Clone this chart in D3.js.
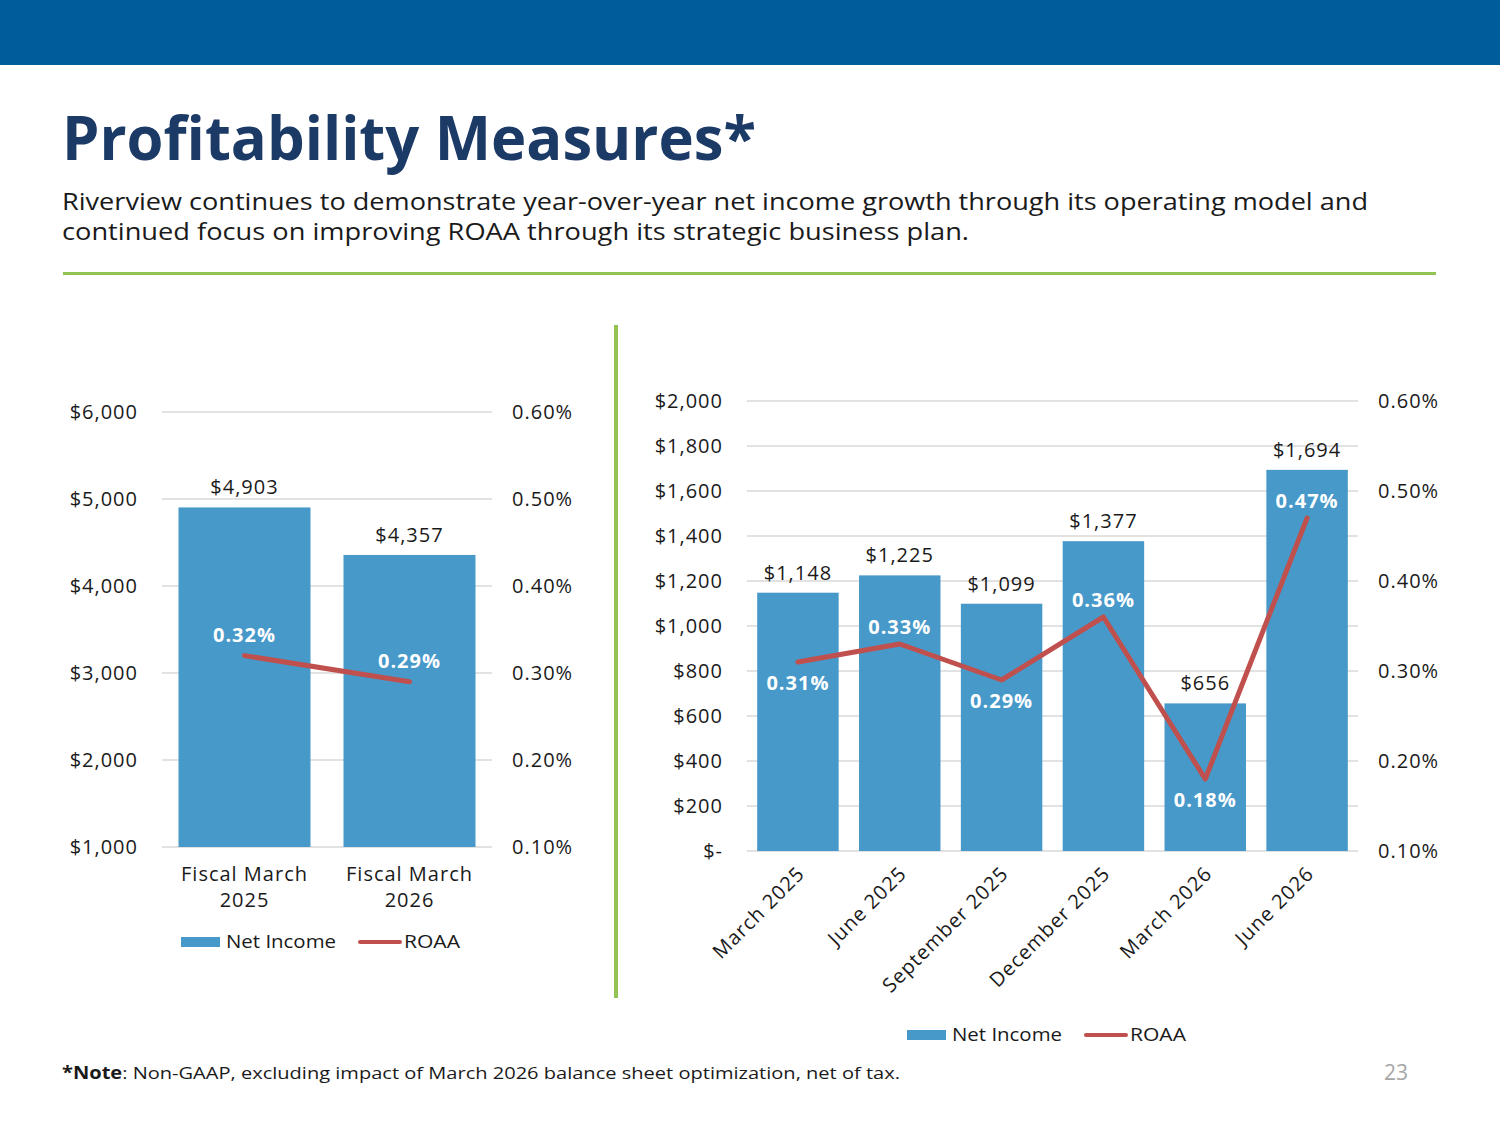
<!DOCTYPE html>
<html>
<head>
<meta charset="utf-8">
<script src="https://cdn.jsdelivr.net/npm/d3@7"></script>
<style>
  body { margin: 0; background: #fff; }
  svg { display: block; font-family: "Open Sans", sans-serif; }
  .wide { letter-spacing: 1px; }
</style>
</head>
<body>
<svg id="slide" width="1500" height="1125"></svg>
<script>
// annual chart data
const annualCategories = ["Fiscal March 2025", "Fiscal March 2026"];
const annualNetIncome = [4903, 4357];
const annualRoaa = [0.32, 0.29];
const annualIncomeTicks = [1000, 2000, 3000, 4000, 5000, 6000];
const annualRoaaTicks = [0.10, 0.20, 0.30, 0.40, 0.50, 0.60];

// quarterly chart data
const quarterCategories = ["March 2025", "June 2025", "September 2025", "December 2025", "March 2026", "June 2026"];
const quarterNetIncome = [1148, 1225, 1099, 1377, 656, 1694];
const quarterRoaa = [0.31, 0.33, 0.29, 0.36, 0.18, 0.47];
const quarterIncomeTicks = [0, 200, 400, 600, 800, 1000, 1200, 1400, 1600, 1800, 2000];
const quarterRoaaTicks = [0.10, 0.20, 0.30, 0.40, 0.50, 0.60];
const quarterLabelSide = ["below", "above", "below", "above", "below", "above"];

const BLUE = "#4799c9", RED = "#c0504d", INK = "#1a1a1a";

const svg = d3.select("#slide");

// header band + titles
svg.append("rect").attr("x", 0).attr("y", 0).attr("width", 1500).attr("height", 65).attr("fill", "#005c9a");
svg.append("text").attr("x", 62).attr("y", 160)
    .attr("font-size", 60).attr("font-weight", 700).attr("fill", "#1c3a66")
    .attr("textLength", 694).attr("lengthAdjust", "spacingAndGlyphs")
    .text("Profitability Measures*");
svg.append("text").attr("x", 62).attr("y", 210)
    .attr("font-size", 24).attr("fill", INK)
    .attr("textLength", 1306).attr("lengthAdjust", "spacingAndGlyphs")
    .text("Riverview continues to demonstrate year-over-year net income growth through its operating model and");
svg.append("text").attr("x", 62).attr("y", 240)
    .attr("font-size", 24).attr("fill", INK)
    .attr("textLength", 907).attr("lengthAdjust", "spacingAndGlyphs")
    .text("continued focus on improving ROAA through its strategic business plan.");
svg.append("rect").attr("x", 63).attr("y", 272).attr("width", 1373).attr("height", 3).attr("fill", "#92c353");
svg.append("rect").attr("x", 614).attr("y", 325).attr("width", 4).attr("height", 673).attr("fill", "#92c353");

function moneyFmt(d) {
    return d === 0 ? "$-" : d3.format("$,")(d);
}
function pctFmt(d) {
    return d.toFixed(2) + "%";
}

function drawChart(o) {
    const g = svg.append("g");
    const x = d3.scaleBand().domain(o.categories).range([o.left, o.right]).paddingInner(0.2).paddingOuter(0.1);
    const y = d3.scaleLinear().domain(o.incomeDomain).range([o.bottom, o.top]);
    const y2 = d3.scaleLinear().domain(o.roaaDomain).range([o.bottom, o.top]);

    // gridlines
    g.append("g").selectAll("line").data(o.incomeTicks).join("line")
        .attr("x1", o.left).attr("x2", o.right)
        .attr("y1", d => y(d)).attr("y2", d => y(d))
        .attr("stroke", "#d9d9d9").attr("stroke-width", 1.3);

    // left axis
    const ax = g.append("g").attr("transform", `translate(${o.left - 24},0)`)
        .call(d3.axisLeft(y).tickValues(o.incomeTicks).tickFormat(moneyFmt).tickSize(0).tickPadding(0));
    ax.select(".domain").remove();
    ax.selectAll("text").attr("font-size", 20).attr("fill", INK).attr("font-family", "Open Sans").attr("class", "wide");

    // right axis
    const ax2 = g.append("g").attr("transform", `translate(${o.right + 20},0)`)
        .call(d3.axisRight(y2).tickValues(o.roaaTicks).tickFormat(pctFmt).tickSize(0).tickPadding(0));
    ax2.select(".domain").remove();
    ax2.selectAll("text").attr("font-size", 20).attr("fill", INK).attr("font-family", "Open Sans").attr("class", "wide");

    const idx = d3.range(o.categories.length);

    // bars
    g.append("g").selectAll("rect").data(idx).join("rect")
        .attr("x", i => x(o.categories[i]))
        .attr("width", x.bandwidth())
        .attr("y", i => y(o.income[i]))
        .attr("height", i => y(o.incomeDomain[0]) - y(o.income[i]))
        .attr("fill", BLUE);

    // bar value labels
    g.append("g").selectAll("text").data(idx).join("text")
        .attr("class", "wide")
        .attr("x", i => x(o.categories[i]) + x.bandwidth() / 2)
        .attr("y", i => y(o.income[i]) - 13)
        .attr("text-anchor", "middle").attr("font-size", 20).attr("fill", INK)
        .text(i => moneyFmt(o.income[i]));

    // ROAA line
    const line = d3.line()
        .x(i => x(o.categories[i]) + x.bandwidth() / 2)
        .y(i => y2(o.roaa[i]));
    g.append("path").datum(idx).attr("d", line)
        .attr("fill", "none").attr("stroke", RED).attr("stroke-width", 5)
        .attr("stroke-linejoin", "round").attr("stroke-linecap", "round");

    g.append("g").selectAll("text").data(idx).join("text")
        .attr("class", "wide")
        .attr("x", i => x(o.categories[i]) + x.bandwidth() / 2)
        .attr("y", i => y2(o.roaa[i]) + (o.labelSide[i] === "above" ? o.aboveOffset : 28))
        .attr("text-anchor", "middle").attr("font-size", 20).attr("font-weight", 700).attr("fill", "#fff")
        .text(i => pctFmt(o.roaa[i]));

    // category labels
    if (o.rotate) {
        g.append("g").selectAll("text").data(o.categories).join("text")
            .attr("class", "wide")
            .attr("transform", d => `translate(${x(d) + x.bandwidth() / 2 + 8},${o.bottom + 24}) rotate(-45)`)
            .attr("text-anchor", "end").attr("font-size", 20).attr("fill", INK)
            .text(d => d);
    } else {
        const t = g.append("g").selectAll("text").data(o.categories).join("text")
            .attr("class", "wide")
            .attr("text-anchor", "middle").attr("font-size", 20).attr("fill", INK);
        t.append("tspan").attr("x", d => x(d) + x.bandwidth() / 2).attr("y", o.bottom + 34)
            .text(d => d.slice(0, d.lastIndexOf(" ")));
        t.append("tspan").attr("x", d => x(d) + x.bandwidth() / 2).attr("y", o.bottom + 60)
            .text(d => d.slice(d.lastIndexOf(" ") + 1));
    }

    // legend
    const lg = g.append("g").attr("transform", `translate(${o.legendX},${o.legendY})`);
    lg.append("rect").attr("x", 0).attr("y", -5).attr("width", 39).attr("height", 10).attr("fill", BLUE);
    lg.append("text").attr("x", 45).attr("y", 6).attr("font-size", 19).attr("fill", INK)
        .attr("textLength", 110).attr("lengthAdjust", "spacingAndGlyphs").text("Net Income");
    lg.append("line").attr("x1", 179).attr("x2", 219).attr("y1", 0).attr("y2", 0)
        .attr("stroke", RED).attr("stroke-width", 4).attr("stroke-linecap", "round");
    lg.append("text").attr("x", 223).attr("y", 6).attr("font-size", 19).attr("fill", INK)
        .attr("textLength", 56).attr("lengthAdjust", "spacingAndGlyphs").text("ROAA");
}

drawChart({
    categories: annualCategories, income: annualNetIncome, roaa: annualRoaa,
    incomeTicks: annualIncomeTicks, roaaTicks: annualRoaaTicks,
    incomeDomain: [1000, 6000], roaaDomain: [0.10, 0.60],
    left: 162, right: 492, top: 412, bottom: 847,
    labelSide: ["above", "above"], aboveOffset: -14,
    rotate: false, legendX: 181, legendY: 942
});

drawChart({
    categories: quarterCategories, income: quarterNetIncome, roaa: quarterRoaa,
    incomeTicks: quarterIncomeTicks, roaaTicks: quarterRoaaTicks,
    incomeDomain: [0, 2000], roaaDomain: [0.10, 0.60],
    left: 747, right: 1358, top: 401, bottom: 851,
    labelSide: quarterLabelSide, aboveOffset: -10,
    rotate: true, legendX: 907, legendY: 1035
});

// footer
const note = svg.append("text").attr("x", 62).attr("y", 1079).attr("font-size", 17).attr("fill", INK)
    .attr("textLength", 838).attr("lengthAdjust", "spacingAndGlyphs");
note.append("tspan").attr("font-weight", 700).text("*Note");
note.append("tspan").text(": Non-GAAP, excluding impact of March 2026 balance sheet optimization, net of tax.");
svg.append("text").attr("x", 1396).attr("y", 1080).attr("text-anchor", "middle")
    .attr("font-size", 21).attr("fill", "#a6a6a6").text("23");
</script>
</body>
</html>
